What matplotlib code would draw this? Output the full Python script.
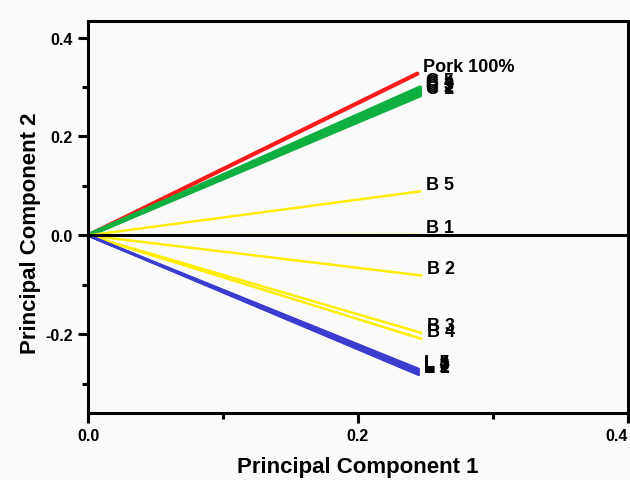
import numpy as np
import matplotlib.pyplot as plt

## loading vectors (end points of each arrow from the origin)
porkLabels = ['Pork 100%']
porkPC1 = [0.244]
porkPC2 = [0.327]

chickenLabels = ['C 1', 'C 2', 'C 3', 'C 4', 'C 5']
chickenPC1 = [0.246, 0.246, 0.246, 0.246, 0.246]
chickenPC2 = [0.283, 0.287, 0.291, 0.295, 0.299]

beefLabels = ['B 1', 'B 2', 'B 3', 'B 4', 'B 5']
beefPC1 = [0.246, 0.247, 0.247, 0.247, 0.246]
beefPC2 = [0.001, -0.081, -0.197, -0.209, 0.089]

lambLabels = ['L 1', 'L 2', 'L 3', 'L 4', 'L 5']
lambPC1 = [0.245, 0.245, 0.245, 0.245, 0.245]
lambPC2 = [-0.282, -0.279, -0.276, -0.273, -0.270]

xTicks = [0.0, 0.2, 0.4]
yTicks = [-0.2, 0.0, 0.2, 0.4]

plt.rcParams['font.family'] = ['Liberation Sans', 'DejaVu Sans']
plt.rcParams['font.weight'] = 'bold'

bg = '#fafafa'
fig = plt.figure(figsize=(6.3, 4.81), dpi=100, facecolor=bg)
ax = fig.add_axes([0.1397, 0.1393, 0.8571, 0.815], facecolor=bg)

# one group of arrows at a time
groups = [
    (porkLabels, porkPC1, porkPC2, '#ff1a1a', 3.0),
    (chickenLabels, chickenPC1, chickenPC2, '#10b040', 3.0),
    (beefLabels, beefPC1, beefPC2, '#ffee00', 1.8),
    (lambLabels, lambPC1, lambPC2, '#3c3ccf', 1.8),
]
for labels, pc1, pc2, color, lw in groups:
    for name, x, y in zip(labels, pc1, pc2):
        ax.plot([0, x], [0, y], color=color, linewidth=lw, solid_capstyle='round', zorder=2)
        ax.annotate(name, (x, y), xytext=(4, 5), textcoords='offset points',
                    fontsize=13, fontweight='bold', va='center', ha='left', zorder=4)

# zero line along PC2 = 0
ax.axhline(0, color='black', linewidth=2.2, zorder=3)

ax.set_xlim(0, 0.4)
ax.set_ylim(-0.359, 0.4335)
ax.set_xticks(xTicks)
ax.set_yticks(yTicks)
ax.set_xticks([0.1, 0.3], minor=True)
ax.set_yticks([-0.3, -0.1, 0.1, 0.3], minor=True)
ax.set_xticklabels(['%.1f' % t for t in xTicks])
ax.set_yticklabels(['%.1f' % t for t in yTicks])
ax.tick_params(which='major', direction='out', length=7, width=2.2, labelsize=11.5, pad=4)
ax.tick_params(which='minor', direction='out', length=4, width=2.2)
ax.tick_params(top=False, right=False, which='both')
for s in ax.spines.values():
    s.set_linewidth(2.2)
# keep the last x label inside the figure
ax.get_xticklabels()[-1].set_horizontalalignment('right')

ax.set_xlabel('Principal Component 1', fontsize=16, fontweight='bold', labelpad=9)
ax.set_ylabel('Principal Component 2', fontsize=16, fontweight='bold', labelpad=3)
ax.yaxis.label.set_y(0.46)

plt.savefig('out.png', dpi=100, facecolor=bg)
